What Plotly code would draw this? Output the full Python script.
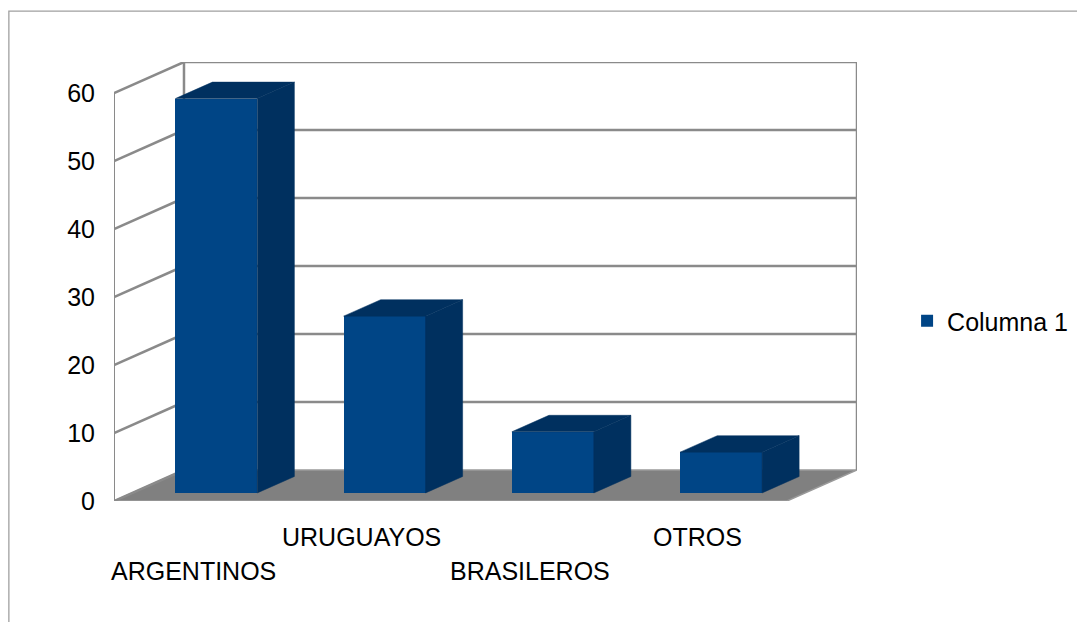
import plotly.graph_objects as go

# ---- data ----
categories = ["ARGENTINOS", "URUGUAYOS", "BRASILEROS", "OTROS"]
values = [58, 26, 9, 6]
series_name = "Columna 1"
y_ticks = [0, 10, 20, 30, 40, 50, 60]

# ---- 3D-look parameters (oblique projection) ----
KX = 0.416      # depth shift in category units
KY = 4.56       # depth shift in value units
D1, D2 = 0.26, 0.79   # bar front/back depth fraction
BW = 0.487      # bar width
YMAX = max(y_ticks)

FRONT = "#004586"
DARK = "#00305f"
GRID = "#8a8a8a"
FLOOR = "#808080"
FONT = "Liberation Sans, Arial, sans-serif"

n = len(categories)
x_left = -0.5
x_right = n - 0.5

fig = go.Figure()

shapes = []
# floor
shapes.append(dict(
    type="path", xref="x", yref="y", layer="below",
    path=f"M {x_left},0 L {x_right},0 L {x_right+KX},{KY} L {x_left+KX},{KY} Z",
    fillcolor=FLOOR, line=dict(color="#9a9a9a", width=1.5)))
# left wall + back wall gridlines
for t in y_ticks:
    shapes.append(dict(type="line", xref="x", yref="y", layer="below",
                       x0=x_left, y0=t, x1=x_left + KX, y1=t + KY,
                       line=dict(color=GRID, width=2.5)))
    if t > 0:
        shapes.append(dict(type="line", xref="x", yref="y", layer="below",
                           x0=x_left + KX, y0=t + KY, x1=x_right + KX, y1=t + KY,
                           line=dict(color=GRID, width=2.5)))
# wall edges
shapes.append(dict(type="line", xref="x", yref="y", layer="below",
                   x0=x_left, y0=0, x1=x_left, y1=YMAX, line=dict(color=GRID, width=2)))
shapes.append(dict(type="line", xref="x", yref="y", layer="below",
                   x0=x_left + KX, y0=KY, x1=x_left + KX, y1=YMAX + KY,
                   line=dict(color=GRID, width=2.5)))
shapes.append(dict(type="line", xref="x", yref="y", layer="below",
                   x0=x_right + KX, y0=KY, x1=x_right + KX, y1=YMAX + KY,
                   line=dict(color=GRID, width=2.5)))
# outer frame
shapes.append(dict(type="path", xref="paper", yref="paper", layer="below",
                   path="M -0.1415,-0.30 L -0.1415,1.116 L 1.33,1.116",
                   line=dict(color="#a0a0a0", width=1.3)))

# bar front faces
xs_front = [i + D1 * KX for i in range(n)]
fig.add_trace(go.Bar(
    x=xs_front, y=values, base=[D1 * KY] * n, width=BW,
    marker=dict(color=FRONT, line=dict(width=0)),
    name=series_name, showlegend=True, hoverinfo="skip"))

# side and top faces
for i, v in enumerate(values):
    xr1 = i + D1 * KX + BW / 2
    xr2 = i + D2 * KX + BW / 2
    xl1 = i + D1 * KX - BW / 2
    xl2 = i + D2 * KX - BW / 2
    y1b, y2b = D1 * KY, D2 * KY
    y1t, y2t = v + D1 * KY, v + D2 * KY
    fig.add_trace(go.Scatter(
        x=[xr1, xr2, xr2, xr1, xr1], y=[y1b, y2b, y2t, y1t, y1b],
        fill="toself", fillcolor=DARK, mode="lines",
        line=dict(color=DARK, width=0.5), showlegend=False, hoverinfo="skip"))
    fig.add_trace(go.Scatter(
        x=[xl1, xl2, xr2, xr1, xl1], y=[y1t, y2t, y2t, y1t, y1t],
        fill="toself", fillcolor=DARK, mode="lines",
        line=dict(color=DARK, width=0.5), showlegend=False, hoverinfo="skip"))

# staggered category labels
annotations = []
for i, c in enumerate(categories):
    annotations.append(dict(
        x=i, xref="x", y=(-0.082 if i % 2 else -0.1595), yref="paper",
        text=c, showarrow=False, xshift=-5, yanchor="middle", xanchor="center",
        font=dict(family=FONT, size=25, color="black")))

fig.update_layout(
    width=1085, height=622,
    margin=dict(l=106, r=236, t=54, b=129),
    paper_bgcolor="white", plot_bgcolor="white",
    shapes=shapes, annotations=annotations,
    showlegend=True,
    legend=dict(x=1.0674, y=0.41, xanchor="left", yanchor="middle",
                font=dict(family=FONT, size=25, color="black"),
                bgcolor="rgba(0,0,0,0)"),
    xaxis=dict(range=[x_left, x_right + KX], showgrid=False, zeroline=False,
               showticklabels=False, showline=False, fixedrange=True),
    yaxis=dict(range=[0, YMAX + KY], tickvals=y_ticks, showgrid=False,
               zeroline=False, showline=False, ticks="", ticklabelstandoff=18,
               tickfont=dict(family=FONT, size=25, color="black"), fixedrange=True),
    bargap=0,
)

fig.write_html("out.html")
